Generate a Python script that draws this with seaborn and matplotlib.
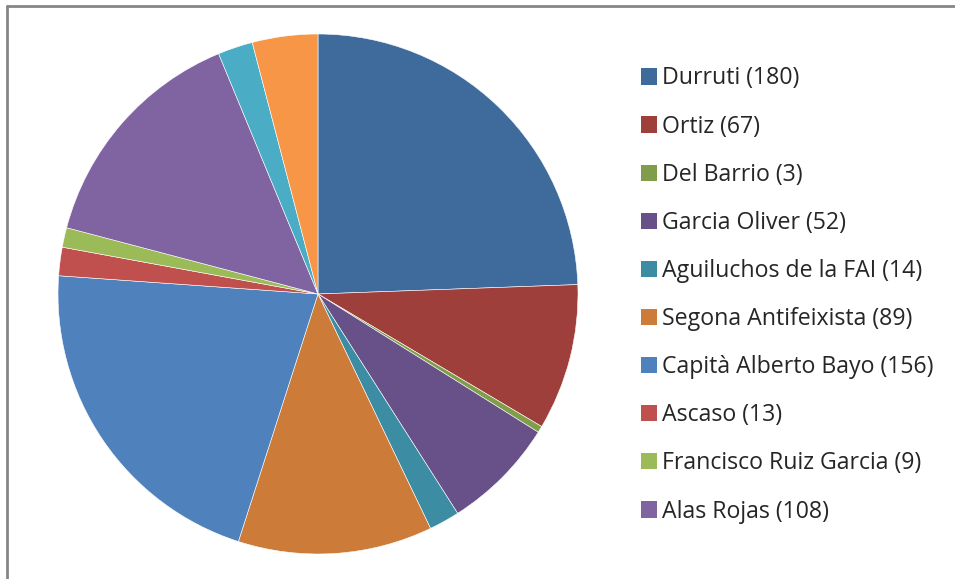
import matplotlib
matplotlib.use("Agg")
import matplotlib.pyplot as plt
import matplotlib.lines as mlines
from matplotlib.patches import Patch
import seaborn as sns

# data (last two slices have no legend entry)
labels = ["Durruti", "Ortiz", "Del Barrio", "Garcia Oliver", "Aguiluchos de la FAI",
          "Segona Antifeixista", "Capità Alberto Bayo", "Ascaso",
          "Francisco Ruiz Garcia", "Alas Rojas"]
values = [180, 67, 3, 52, 14, 89, 156, 13, 9, 108, 16, 30]
colors = ["#3F6A9C", "#9E3F3C", "#809D49", "#685089", "#3C8DA3", "#CC7B38",
          "#4F81BD", "#C0504D", "#9BBB59", "#8064A2", "#4BACC6", "#F79646"]

sns.set_style("white")
plt.rcParams["font.family"] = ["Open Sans", "DejaVu Sans"]

W, H = 955, 579
fig = plt.figure(figsize=(W / 100, H / 100), dpi=100)
ax = fig.add_axes([58 / W, 25 / H, 520 / W, 520 / H])
ax.pie(values, colors=colors, startangle=90, counterclock=False,
       wedgeprops=dict(edgecolor="white", linewidth=0.4))
ax.set_xlim(-1, 1)
ax.set_ylim(-1, 1)
ax.set_aspect("equal")
ax.axis("off")

handles = [Patch(facecolor=c, edgecolor="none") for c in colors[:len(labels)]]
leg_labels = [f"{n} ({v})" for n, v in zip(labels, values)]
fig.legend(handles, leg_labels, loc="upper left", bbox_to_anchor=(641 / W, 1 - 66.5 / H),
           frameon=False, fontsize=16.7, handlelength=0.7, handleheight=0.7,
           handletextpad=0.22, labelspacing=1.04, borderpad=0, borderaxespad=0)

# chart area border (top and left edges visible)
fig.add_artist(mlines.Line2D([6.5 / W, 1], [1 - 6 / H, 1 - 6 / H], color="#868686", lw=2))
fig.add_artist(mlines.Line2D([6.5 / W, 6.5 / W], [0, 1 - 6 / H], color="#868686", lw=2))

fig.savefig("out.png", dpi=100)
